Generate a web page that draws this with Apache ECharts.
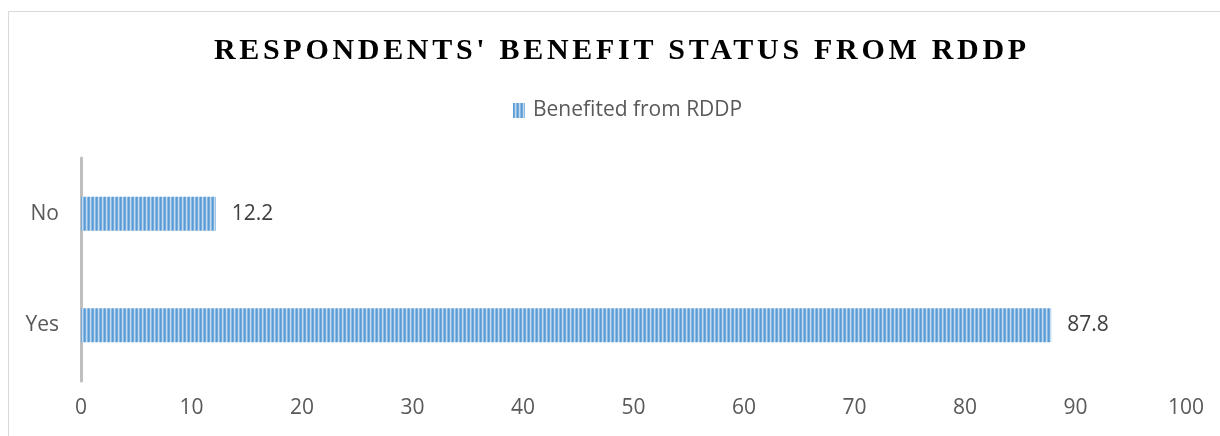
<!DOCTYPE html>
<html>
<head>
<meta charset="utf-8">
<script src="https://cdn.jsdelivr.net/npm/echarts@6/dist/echarts.min.js"></script>
<style>
html,body{margin:0;padding:0;background:#fff;}
#c{width:1220px;height:436px;}
</style>
</head>
<body>
<div id="c"></div>
<script>
const titleText = "RESPONDENTS' BENEFIT STATUS FROM RDDP";
const seriesName = 'Benefited from RDDP';
const categories = ['Yes', 'No'];
const values = [87.8, 12.2];
const xTicks = { min: 0, max: 100, interval: 10 };

// letter-spaced title (drawn by ECharts, spacing applied at draw time)
const TITLE_SPACING = 3.7;
const TITLE_SHIFT = 10;
(function(){
  const orig = CanvasRenderingContext2D.prototype.fillText;
  CanvasRenderingContext2D.prototype.fillText = function(t, x, y, m){
    if (t === titleText) {
      const w0 = this.measureText(t).width;
      let cx = x;
      if (this.textAlign === 'left' || this.textAlign === 'start') cx = x + w0/2;
      else if (this.textAlign === 'right' || this.textAlign === 'end') cx = x - w0/2;
      const ls = this.letterSpacing, ta = this.textAlign;
      this.letterSpacing = TITLE_SPACING + 'px';
      this.textAlign = 'center';
      orig.call(this, t, cx + TITLE_SPACING/2 + TITLE_SHIFT, y);
      this.letterSpacing = ls; this.textAlign = ta;
      return;
    }
    return orig.call(this, t, x, y, m);
  };
})();

function stripes(){
  const cv = document.createElement('canvas');
  cv.width = 4; cv.height = 4;
  const g = cv.getContext('2d');
  const cols = ['#5b9bd5', '#74abdd', '#c3daf0', '#8cbae3'];
  cols.forEach((c,i)=>{ g.fillStyle = c; g.fillRect(i,0,1,4); });
  return cv;
}
const pat = { image: stripes(), repeat: 'repeat' };

const chart = echarts.init(document.getElementById('c'), null, {renderer:'canvas'});
chart.setOption({
  animation: false,
  backgroundColor: '#fff',
  title: {
    text: titleText,
    left: 'center',
    top: 31,
    textStyle: { fontFamily: 'Liberation Serif', fontWeight: 'bold', fontSize: 30, color: '#000' }
  },
  legend: {
    top: 95,
    left: 508,
    itemWidth: 12,
    itemHeight: 15,
    itemGap: 5,
    icon: 'rect',
    textStyle: { fontFamily: 'Open Sans', fontSize: 21, color: '#595959', padding: [0,0,0,3] },
    data: [seriesName]
  },
  graphic: [{
    type: 'polyline',
    shape: { points: [[8.5, 440], [8.5, 11.5], [1225, 11.5]] },
    style: { stroke: '#d9d9d9', lineWidth: 1, fill: null },
    silent: true
  }],
  grid: { left: 81, right: 34, top: 158, bottom: 55, containLabel: false },
  xAxis: {
    type: 'value',
    min: xTicks.min, max: xTicks.max, interval: xTicks.interval,
    axisLine: { show: false },
    axisTick: { show: false },
    splitLine: { show: false },
    axisLabel: { fontFamily: 'Open Sans', fontSize: 21, color: '#595959', margin: 17 }
  },
  yAxis: {
    type: 'category',
    data: categories,
    axisLine: { show: true, lineStyle: { color: '#bfbfbf', width: 3 } },
    axisTick: { show: false },
    axisLabel: { fontFamily: 'Open Sans', fontSize: 21, color: '#595959', margin: 22 }
  },
  series: [{
    name: seriesName,
    type: 'bar',
    data: values,
    barWidth: 34,
    itemStyle: { color: pat },
    label: {
      show: true, position: 'right', distance: 16,
      fontFamily: 'Open Sans', fontSize: 21, color: '#404040'
    }
  }]
});
</script>
</body>
</html>
